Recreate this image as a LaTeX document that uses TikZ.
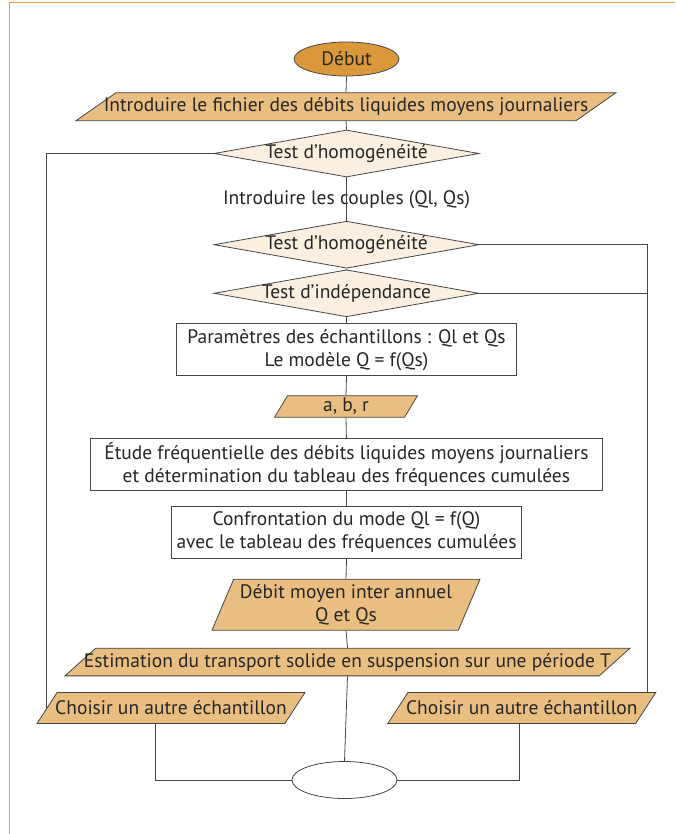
\documentclass[tikz,border=0pt]{standalone}
\usepackage{fontspec}
\setmainfont{PT Sans}
\usetikzlibrary{shapes.geometric}
\definecolor{frameorange}{RGB}{224,162,58}
\definecolor{startfill}{RGB}{218,152,58}
\definecolor{iofill}{RGB}{233,190,128}
\definecolor{testfill}{RGB}{251,240,224}
\definecolor{linegray}{RGB}{70,70,70}
\begin{document}
\begin{tikzpicture}[x=1pt,y=-1pt,line width=.8pt,
  every node/.style={font=\fontsize{19.5}{23}\selectfont,inner sep=0pt,text=black!85},
  term/.style={ellipse,draw=linegray,minimum width=105,minimum height=34},
  io/.style n args={3}{trapezium,draw=linegray,fill=iofill,
    trapezium left angle=#3,trapezium right angle={180-#3},
    inner ysep={#2/2},inner xsep={#1/2-#2/tan(#3)}},
  test/.style={diamond,aspect=5.6,draw=linegray,fill=testfill,minimum width=265,minimum height=47},
  proc/.style={rectangle,draw=linegray,fill=white,align=center,minimum height=51.7}]
\useasboundingbox(0,0)rectangle(675,834);
\draw[frameorange,line width=1pt](9.5,834)--(9.5,2.7)--(675,2.7);

\node[term,fill=startfill] (start) at (346.5,59) {Début};
\node[io={540}{28}{35},
  label=center:Introduire le fichier des débits liquides moyens journaliers] (intro) at (346,106.7) {};
\node[test,label=center:Test d’homogénéité] (test1) at (346.5,153.5) {};
\node (couples) at (346.5,200) {Introduire les couples (Ql, Qs)};
\node[test,label=center:Test d’homogénéité] (test2) at (346.5,244.7) {};
\node[test,label=center:Test d’indépendance] (test3) at (346.5,293.3) {};
\node[proc,minimum width=340] (param) at (346.5,349.7)
  {Paramètres des échantillons : Ql et Qs\\Le modèle Q = f(Qs)};
\node[io={143}{21.6}{59},label={center:a, b, r}] (abr) at (346,406.5) {};
\node[proc,minimum width=512.7] (etude) at (346.4,464.2)
  {Étude fréquentielle des débits liquides moyens journaliers\\et détermination du tableau des fréquences cumulées};
\node[proc,minimum width=350] (confr) at (346.5,532.5)
  {Confrontation du mode Ql = f(Q)\\avec le tableau des fréquences cumulées};
\node[io={268}{51}{67},
  label={[align=center]center:Débit moyen inter annuel\\Q et Qs}] (debit) at (346,604.7) {};
\node[io={565}{27.7}{42},
  label=center:Estimation du transport solide en suspension sur une période T] (estim) at (347.5,662) {};
\node[io={268}{31}{57},label=center:Choisir un autre échantillon] (autreL) at (171,708) {};
\node[io={268}{31}{57},label=center:Choisir un autre échantillon] (autreR) at (521.8,708) {};
\node[term,minimum height=37] (fin) at (344.5,780) {};

\foreach \a/\b in {start/intro,intro/test1,test1/test2,test2/test3,test3/param,param/abr,
  abr/etude,etude/confr,confr/debit,debit/estim,estim/fin}
  \draw[linegray](\a.south)--(\b.north);
\coordinate (rx) at (647,0);
\draw[linegray](test1.west)-|(autreL.west);
\draw[linegray](test2.east)-|(rx|-autreR.north);
\draw[linegray](test3.east)--(rx|-test3.east);
\draw[linegray]([xshift=-16]autreL.south)|-(fin.west);
\draw[linegray]([xshift=-2]autreR.south)|-(fin.east);
\end{tikzpicture}
\end{document}
